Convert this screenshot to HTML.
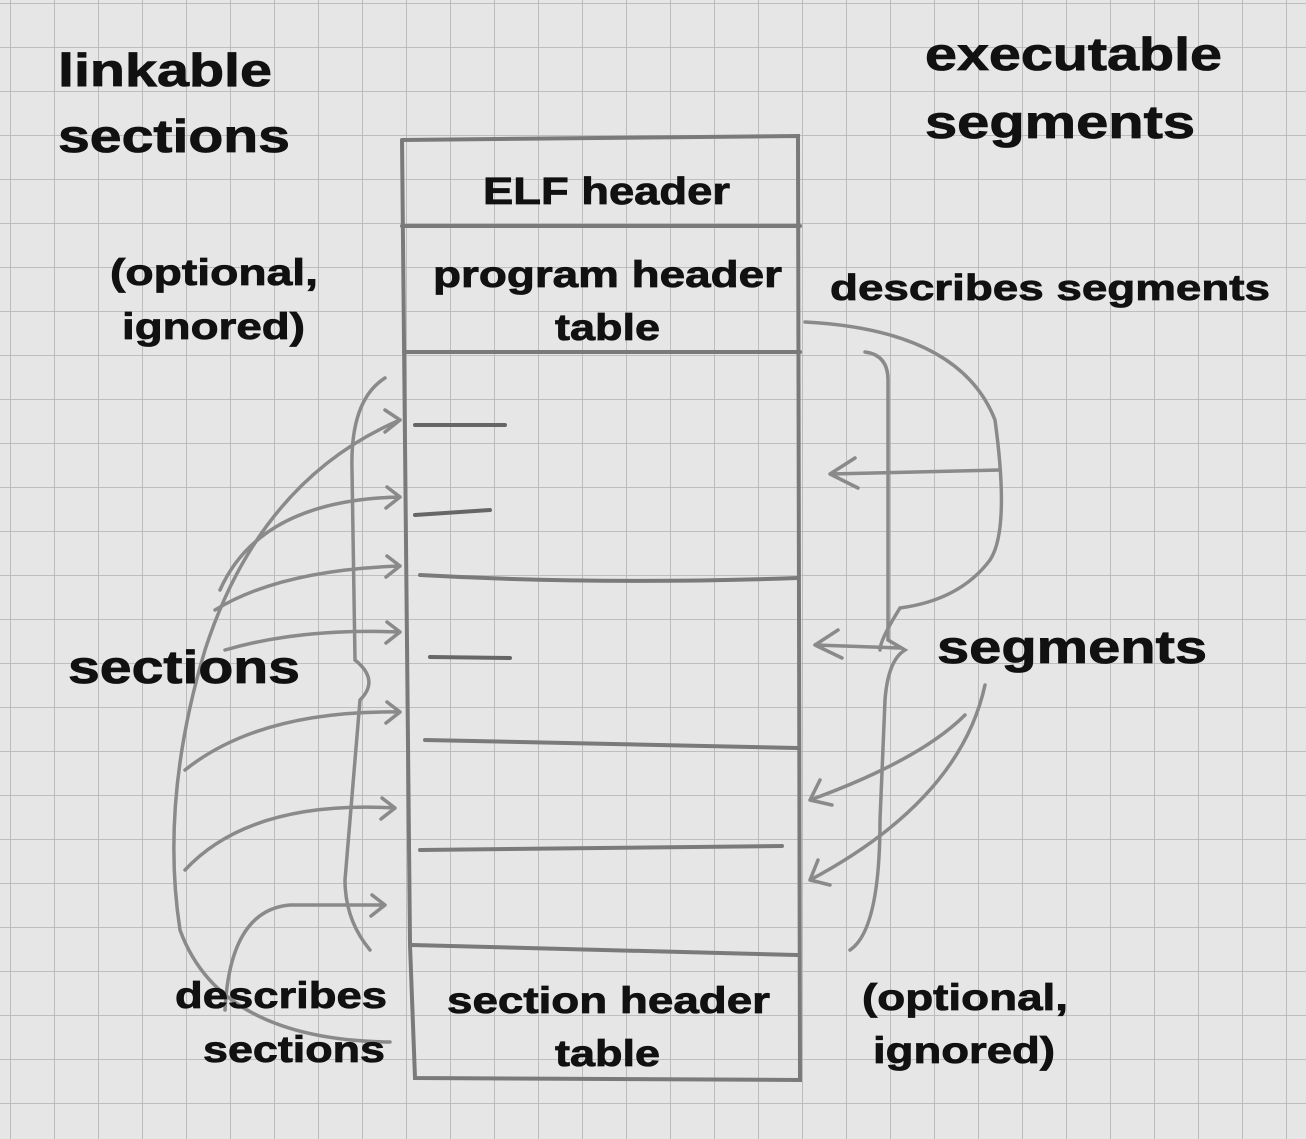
<!DOCTYPE html>
<html><head><meta charset="utf-8"><style>
html,body{margin:0;padding:0;background:#e6e6e6;}
svg{display:block}
text{font-family:"Liberation Sans",Arial,sans-serif;font-weight:bold;fill:#111;stroke:#111;stroke-width:0.8}
</style></head><body>
<svg width="1306" height="1139" viewBox="0 0 1306 1139">
<defs>
<pattern id="grid" x="10" y="3" width="44" height="44" patternUnits="userSpaceOnUse">
<path d="M0 0 H44 M0 0 V44" stroke="#b8b8b8" stroke-width="1.8" fill="none"/>
</pattern>
</defs>
<rect width="1306" height="1139" fill="#e6e6e6"/>
<rect width="1306" height="1139" fill="url(#grid)"/>

<g stroke="#7a7a7a" stroke-width="4" fill="none" stroke-linecap="round">
<path d="M402 140 L798 136 L800 1080 L415 1078 L410 945 L402 140"/>
<path d="M402 226 L800 226"/>
<path d="M404 352 L800 352"/>
<path d="M420 575 Q600 585 797 578"/>
<path d="M425 740 L797 748"/>
<path d="M420 850 L782 846"/>
<path d="M412 945 L797 955"/>
<path d="M415 425 L505 425 M415 515 L490 510 M430 657 L510 658" stroke="#666"/>
</g>

<g stroke="#8a8a8a" stroke-width="3.5" fill="none" stroke-linecap="round">
<path d="M385 378 Q350 400 352 470 L355 660 Q380 680 360 700 L345 880 Q345 920 370 950"/>
<path d="M390 1042 Q220 1040 180 930 Q160 800 205 650 Q260 480 400 420" />
<path d="M400 420 L385 410 M400 420 L385 432"/>
<path d="M220 590 Q260 500 400 497 M400 497 L387 487 M400 497 L386 508"/>
<path d="M215 610 Q280 570 400 566 M400 566 L387 556 M400 566 L386 577"/>
<path d="M225 650 Q300 628 400 632 M400 632 L387 622 M400 632 L386 643"/>
<path d="M185 770 Q260 710 400 712 M400 712 L387 702 M400 712 L386 723"/>
<path d="M185 870 Q250 800 395 808 M395 808 L382 798 M395 808 L381 819"/>
<path d="M225 1010 Q230 910 290 905 L385 905 M385 905 L372 895 M385 905 L371 916"/>
</g>

<g stroke="#8a8a8a" stroke-width="3.5" fill="none" stroke-linecap="round">
<path d="M805 322 Q960 330 995 420 Q1010 530 990 560 Q960 600 900 608 Q880 640 880 650" />
<path d="M865 352 Q888 355 888 380 L888 640 L905 650 Q888 660 885 700 L880 820 Q880 930 850 950"/>
<path d="M1000 470 L830 474 M830 474 L855 458 M830 474 L858 488"/>
<path d="M900 648 L815 645 M815 645 L838 630 M815 645 L842 658"/>
<path d="M965 715 Q920 760 810 800 M810 800 L820 780 M810 800 L832 805"/>
<path d="M985 685 Q960 800 810 880 M810 880 L818 860 M810 880 L830 885"/>
</g>

<g>
<text x="58" y="86" font-size="46" textLength="214" lengthAdjust="spacingAndGlyphs">linkable</text>
<text x="58" y="152" font-size="46" textLength="232" lengthAdjust="spacingAndGlyphs">sections</text>
<text x="925" y="70" font-size="46" textLength="297" lengthAdjust="spacingAndGlyphs">executable</text>
<text x="925" y="138" font-size="46" textLength="270" lengthAdjust="spacingAndGlyphs">segments</text>
<text x="483" y="204" font-size="38" textLength="247" lengthAdjust="spacingAndGlyphs">ELF header</text>
<text x="433" y="287" font-size="37" textLength="349" lengthAdjust="spacingAndGlyphs">program header</text>
<text x="555" y="340" font-size="37" textLength="105" lengthAdjust="spacingAndGlyphs">table</text>
<text x="110" y="285" font-size="37" textLength="208" lengthAdjust="spacingAndGlyphs">(optional,</text>
<text x="122" y="339" font-size="37" textLength="183" lengthAdjust="spacingAndGlyphs">ignored)</text>
<text x="830" y="300" font-size="36" textLength="440" lengthAdjust="spacingAndGlyphs">describes segments</text>
<text x="68" y="683" font-size="46" textLength="232" lengthAdjust="spacingAndGlyphs">sections</text>
<text x="937" y="663" font-size="46" textLength="270" lengthAdjust="spacingAndGlyphs">segments</text>
<text x="175" y="1008" font-size="37" textLength="212" lengthAdjust="spacingAndGlyphs">describes</text>
<text x="203" y="1062" font-size="37" textLength="182" lengthAdjust="spacingAndGlyphs">sections</text>
<text x="447" y="1013" font-size="37" textLength="323" lengthAdjust="spacingAndGlyphs">section header</text>
<text x="555" y="1066" font-size="37" textLength="105" lengthAdjust="spacingAndGlyphs">table</text>
<text x="862" y="1010" font-size="37" textLength="206" lengthAdjust="spacingAndGlyphs">(optional,</text>
<text x="873" y="1063" font-size="37" textLength="182" lengthAdjust="spacingAndGlyphs">ignored)</text>
</g>
</svg>
</body></html>
